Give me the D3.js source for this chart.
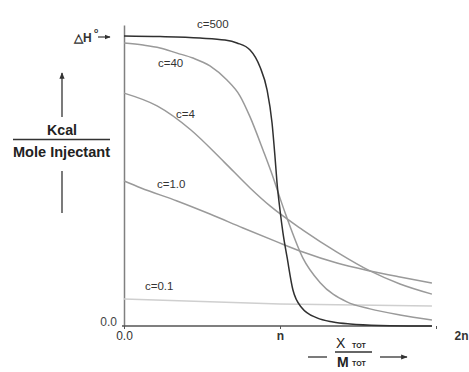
<!DOCTYPE html>
<html>
<head>
<meta charset="utf-8">
<script src="https://cdn.jsdelivr.net/npm/d3@7"></script>
<style>
  body { margin: 0; background: #fff; }
  svg { display: block; }
</style>
</head>
<body>
<div id="chart"></div>
<script>
// x in multiples of n (X_tot / M_tot), y as fraction of ΔH°
const c500X = [0, 0.231, 0.487, 0.647, 0.724, 0.808, 0.872, 0.917, 0.949, 0.968, 0.981, 1.000, 1.019, 1.045, 1.083, 1.141, 1.237, 1.340, 1.449, 1.641, 1.974];
const c500Y = [1.000, 0.998, 0.993, 0.986, 0.976, 0.952, 0.893, 0.814, 0.700, 0.583, 0.493, 0.400, 0.321, 0.238, 0.124, 0.062, 0.028, 0.014, 0.007, 0.002, 0];

const c40X = [0, 0.122, 0.231, 0.340, 0.442, 0.551, 0.660, 0.744, 0.808, 0.891, 0.955, 1.000, 1.045, 1.147, 1.256, 1.429, 1.577, 1.769, 1.974];
const c40Y = [0.976, 0.969, 0.959, 0.941, 0.924, 0.897, 0.848, 0.793, 0.721, 0.607, 0.514, 0.441, 0.372, 0.234, 0.150, 0.083, 0.059, 0.038, 0.021];

const c4X = [0, 0.212, 0.429, 0.641, 0.808, 0.936, 1.147, 1.365, 1.577, 1.769, 1.974];
const c4Y = [0.803, 0.759, 0.676, 0.566, 0.476, 0.414, 0.331, 0.255, 0.190, 0.145, 0.110];

const c1X = [0, 0.109, 0.340, 0.551, 0.763, 0.981, 1.147, 1.365, 1.577, 1.769, 1.974];
const c1Y = [0.500, 0.476, 0.431, 0.386, 0.338, 0.290, 0.255, 0.217, 0.190, 0.169, 0.148];

const c01X = [0, 1.000, 1.974];
const c01Y = [0.093, 0.076, 0.069];

const xTicks = [0, 1, 2];
const xTickLabels = ["0.0", "n", "2n"];
const yTicks = [0];
const yTickLabels = ["0.0"];

const W = 469, H = 372;
const svg = d3.select("#chart").append("svg")
    .attr("width", W)
    .attr("height", H)
    .attr("font-family", "'Liberation Sans', Arial, sans-serif");

const x = d3.scaleLinear().domain([0, 2]).range([124, 436]);
const y = d3.scaleLinear().domain([0, 1.038]).range([326, 25]);

// y axis
const axisY = svg.append("g")
    .attr("transform", "translate(" + x(0) + ",0)")
    .call(d3.axisLeft(y).tickValues(yTicks).tickSize(0).tickPadding(7)
        .tickFormat((d, i) => yTickLabels[i]));
axisY.select(".domain").attr("stroke", "#808080").attr("stroke-width", 1.5);
axisY.selectAll("text")
    .attr("font-size", 12).attr("fill", "#444")
    .attr("font-family", "'Liberation Sans', Arial, sans-serif")
    .attr("dy", "-0.05em");

// x axis
const axisX = svg.append("g")
    .attr("transform", "translate(0," + y(0) + ")")
    .call(d3.axisBottom(x).tickValues(xTicks).tickSize(3).tickPadding(2)
        .tickFormat((d, i) => xTickLabels[i]));
axisX.select(".domain").remove();
axisX.selectAll("line").attr("stroke", "#555");
axisX.selectAll("text")
    .attr("font-size", 12).attr("fill", "#333")
    .attr("font-family", "'Liberation Sans', Arial, sans-serif")
    .attr("font-weight", (d, i) => i === 0 ? "normal" : "bold")
    .attr("dx", (d, i) => i === 2 ? 25 : 0);
axisX.append("line")
    .attr("x1", x(0) - 2).attr("x2", x(c500X[c500X.length - 1]))
    .attr("stroke", "#555").attr("stroke-width", 1.5);

// curves
const line = d3.line()
    .x(d => x(d[0]))
    .y(d => y(d[1]))
    .curve(d3.curveMonotoneX);

const series = [
    { xs: c01X, ys: c01Y, color: "#cfcfcf" },
    { xs: c1X, ys: c1Y, color: "#9a9a9a" },
    { xs: c4X, ys: c4Y, color: "#9a9a9a" },
    { xs: c40X, ys: c40Y, color: "#9a9a9a" },
    { xs: c500X, ys: c500Y, color: "#303030" }
];

series.forEach(s => {
    svg.append("path")
        .datum(d3.zip(s.xs, s.ys))
        .attr("fill", "none")
        .attr("stroke", s.color)
        .attr("stroke-width", 1.5)
        .attr("d", line);
});

// curve labels
const labels = [
    { t: "c=500", x: 197, y: 28 },
    { t: "c=40", x: 158, y: 67 },
    { t: "c=4", x: 176, y: 118 },
    { t: "c=1.0", x: 157, y: 188 },
    { t: "c=0.1", x: 145, y: 290 }
];
svg.selectAll(".clab")
    .data(labels)
    .enter().append("text")
    .attr("class", "clab")
    .attr("x", d => d.x)
    .attr("y", d => d.y)
    .attr("font-size", 11.5)
    .attr("fill", "#333")
    .text(d => d.t);

// arrow marker
svg.append("defs").append("marker")
    .attr("id", "arr")
    .attr("viewBox", "0 0 10 10")
    .attr("refX", 9).attr("refY", 5)
    .attr("markerWidth", 5).attr("markerHeight", 5)
    .attr("orient", "auto-start-reverse")
    .append("path")
    .attr("d", "M0,1 L10,5 L0,9 z")
    .attr("fill", "#333");

// ΔH° label
svg.append("text")
    .attr("x", 74).attr("y", 42)
    .attr("font-size", 12).attr("font-weight", "bold").attr("fill", "#333")
    .text("\u25B3H");
svg.append("text")
    .attr("x", 94).attr("y", 33)
    .attr("font-size", 7).attr("font-weight", "bold").attr("fill", "#333")
    .text("o");
svg.append("line")
    .attr("x1", 98).attr("x2", 110).attr("y1", 37).attr("y2", 37)
    .attr("stroke", "#333").attr("stroke-width", 1.2)
    .attr("marker-end", "url(#arr)");

// y-axis title
svg.append("line")
    .attr("x1", 62).attr("x2", 62).attr("y1", 117).attr("y2", 73)
    .attr("stroke", "#333").attr("stroke-width", 1.3)
    .attr("marker-end", "url(#arr)");
svg.append("line")
    .attr("x1", 62).attr("x2", 62).attr("y1", 171).attr("y2", 213)
    .attr("stroke", "#333").attr("stroke-width", 1.3);
svg.append("text")
    .attr("x", 47).attr("y", 135)
    .attr("font-size", 15).attr("font-weight", "bold").attr("fill", "#222")
    .attr("textLength", 30).attr("lengthAdjust", "spacingAndGlyphs")
    .text("Kcal");
svg.append("line")
    .attr("x1", 13).attr("x2", 110).attr("y1", 139.5).attr("y2", 139.5)
    .attr("stroke", "#333").attr("stroke-width", 1.5);
svg.append("text")
    .attr("x", 13).attr("y", 157)
    .attr("font-size", 15).attr("font-weight", "bold").attr("fill", "#222")
    .attr("textLength", 97).attr("lengthAdjust", "spacingAndGlyphs")
    .text("Mole Injectant");

// x-axis title
svg.append("text")
    .attr("x", 336).attr("y", 348)
    .attr("font-size", 14).attr("fill", "#222")
    .text("X");
svg.append("text")
    .attr("x", 352).attr("y", 348)
    .attr("font-size", 7).attr("font-weight", "bold").attr("fill", "#222")
    .text("TOT");
svg.append("line")
    .attr("x1", 335).attr("x2", 372).attr("y1", 352).attr("y2", 352)
    .attr("stroke", "#333").attr("stroke-width", 1.3);
svg.append("text")
    .attr("x", 337).attr("y", 367)
    .attr("font-size", 14).attr("font-weight", "bold").attr("fill", "#222")
    .text("M");
svg.append("text")
    .attr("x", 352).attr("y", 366)
    .attr("font-size", 7).attr("font-weight", "bold").attr("fill", "#222")
    .text("TOT");
svg.append("line")
    .attr("x1", 308).attr("x2", 327).attr("y1", 357).attr("y2", 357)
    .attr("stroke", "#333").attr("stroke-width", 1.3);
svg.append("line")
    .attr("x1", 380).attr("x2", 407).attr("y1", 357).attr("y2", 357)
    .attr("stroke", "#333").attr("stroke-width", 1.3)
    .attr("marker-end", "url(#arr)");
</script>
</body>
</html>
